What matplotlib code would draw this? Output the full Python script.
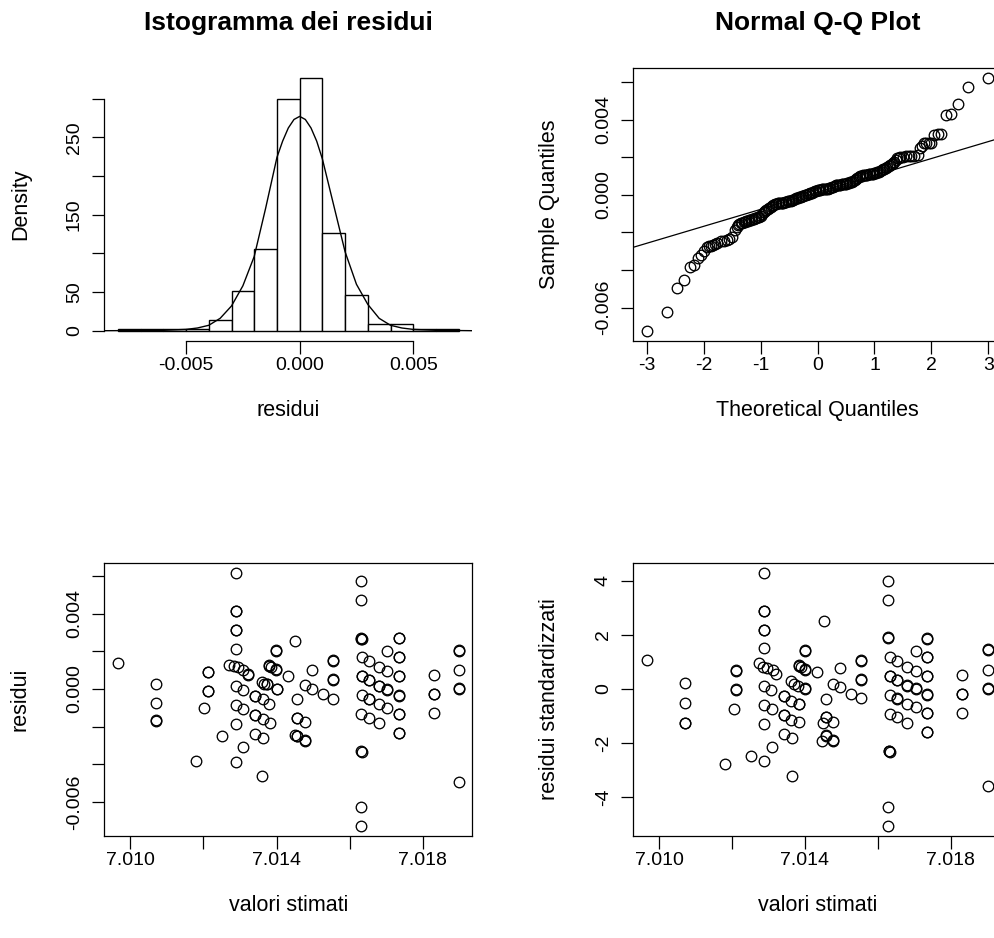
import numpy as np
import matplotlib
matplotlib.use("Agg")
import matplotlib.pyplot as plt

plt.rcParams['font.family'] = ['Liberation Sans', 'DejaVu Sans']
plt.rcParams['axes.unicode_minus'] = False

# --- Istogramma dei residui ---
hist_edges = [-0.008, -0.007, -0.006, -0.005, -0.004, -0.003, -0.002, -0.001,
              0.000, 0.001, 0.002, 0.003, 0.004, 0.005, 0.006, 0.007]
hist_density = [2.7, 2.7, 2.7, 2.7, 13.5, 51.2, 105.1, 299.2,
                326.1, 126.7, 45.8, 8.1, 8.1, 2.7, 2.7]
# kernel density curve
dens_x = [-0.0086, -0.0070, -0.0060, -0.0050, -0.0045, -0.0040, -0.0035, -0.0030,
          -0.0025, -0.0020, -0.0015, -0.0010, -0.00075, -0.0005, -0.00025, 0.0,
          0.00025, 0.0005, 0.00075, 0.0010, 0.0015, 0.0020, 0.0025, 0.0030,
          0.0035, 0.0040, 0.0045, 0.0050, 0.0060, 0.0070, 0.0076]
dens_y = [0.0, 0.2, 0.5, 1.7, 3.5, 7.0, 16.0, 32.0,
          58.0, 96.0, 158.0, 224.0, 245.0, 262.0, 273.0, 277.0,
          273.0, 262.0, 245.0, 222.0, 162.0, 102.0, 60.0, 34.0,
          16.0, 7.0, 3.5, 1.7, 0.5, 0.2, 0.0]

# --- Normal Q-Q plot (theoretical quantile, sample quantile) ---
qq_theo = [-3.00, -2.65, -2.47, -2.35, -2.25, -2.175, -2.11, -2.05, -2.00, -1.95,
           -1.907, -1.866, -1.83, -1.795, -1.76, -1.70, -1.65, -1.60, -1.55, -1.50,
           -1.450, -1.425, -1.400, -1.375, -1.350, -1.325, -1.300, -1.275, -1.250, -1.225,
           -1.200, -1.175, -1.150, -1.125, -1.100, -1.075, -1.050, -1.025, -1.000, -0.975,
           -0.950, -0.925, -0.900, -0.875, -0.850, -0.825, -0.800, -0.775, -0.750, -0.725,
           -0.700, -0.675, -0.650, -0.625, -0.600, -0.575, -0.550, -0.525, -0.500, -0.475,
           -0.450, -0.425, -0.400, -0.375, -0.350, -0.325, -0.300, -0.275, -0.250, -0.225,
           -0.200, -0.175, -0.150, -0.125, -0.100, -0.075, -0.050, -0.025, 0.000, 0.025,
           0.050, 0.075, 0.100, 0.125, 0.150, 0.175, 0.200, 0.225, 0.250, 0.275,
           0.300, 0.325, 0.350, 0.375, 0.400, 0.425, 0.450, 0.475, 0.500, 0.525,
           0.550, 0.575, 0.600, 0.625, 0.650, 0.675, 0.700, 0.725, 0.750, 0.775,
           0.800, 0.825, 0.850, 0.875, 0.900, 0.925, 0.950, 0.975, 1.000, 1.025,
           1.050, 1.075, 1.100, 1.125, 1.150, 1.175, 1.200, 1.225, 1.250, 1.275,
           1.300, 1.325, 1.350, 1.375, 1.400, 1.425, 1.450,
           1.50, 1.55, 1.60, 1.65, 1.70, 1.76, 1.795, 1.83, 1.866, 1.907,
           1.95, 2.00, 2.05, 2.11, 2.175, 2.25, 2.35, 2.47, 2.65, 2.99]
qq_sample = [-0.00722, -0.00620, -0.00493, -0.00453, -0.00382, -0.00373, -0.00333, -0.00318, -0.00300, -0.00278,
             -0.00272, -0.00270, -0.00268, -0.00262, -0.00256, -0.00246, -0.00245, -0.00242, -0.00236, -0.00226,
             -0.00185, -0.00170, -0.00160, -0.00156, -0.00152, -0.00149, -0.00146, -0.00143, -0.00140, -0.00137,
             -0.00134, -0.00132, -0.00130, -0.00128, -0.00125, -0.00122, -0.00120, -0.00116, -0.00110, -0.00100,
             -0.00092, -0.00086, -0.00080, -0.00074, -0.00069, -0.00064, -0.00060, -0.00055, -0.00050, -0.00047,
             -0.00045, -0.00044, -0.00043, -0.00042, -0.00041, -0.00039, -0.00037, -0.00035, -0.00033, -0.00031,
             -0.00028, -0.00025, -0.00022, -0.00019, -0.00016, -0.00013, -0.00010, -0.00007, -0.00005, -0.00002,
             0.00001, 0.00004, 0.00006, 0.00009, 0.00012, 0.00016, 0.00020, 0.00023, 0.00025, 0.00027,
             0.00028, 0.00029, 0.00030, 0.00031, 0.00032, 0.00033, 0.00034, 0.00037, 0.00040, 0.00044,
             0.00047, 0.00050, 0.00053, 0.00054, 0.00055, 0.00056, 0.00057, 0.00058, 0.00060, 0.00061,
             0.00063, 0.00066, 0.00070, 0.00075, 0.00080, 0.00085, 0.00090, 0.00094, 0.00098, 0.00101,
             0.00104, 0.00106, 0.00107, 0.00108, 0.00109, 0.00110, 0.00111, 0.00113, 0.00115, 0.00117,
             0.00119, 0.00123, 0.00127, 0.00131, 0.00135, 0.00139, 0.00143, 0.00147, 0.00152, 0.00157,
             0.00162, 0.00167, 0.00173, 0.00185, 0.00195, 0.00198, 0.00200,
             0.00203, 0.00205, 0.00207, 0.00207, 0.00207, 0.00210, 0.00250, 0.00262, 0.00275, 0.00277,
             0.00277, 0.00278, 0.00320, 0.00322, 0.00323, 0.00425, 0.00428, 0.00481, 0.00575, 0.00619]
qq_intercept = 0.00013
qq_slope = 0.0009

# --- residui vs valori stimati ---
res_fit = [7.00966, 7.01070, 7.01070, 7.01070, 7.01070, 7.01180, 7.01201, 7.01211, 7.01211, 7.01211,
           7.01211, 7.01250, 7.01270, 7.01288, 7.01288, 7.01288, 7.01288, 7.01288, 7.01288, 7.01288,
           7.01288, 7.01288, 7.01288, 7.01283, 7.01295, 7.01309, 7.01322, 7.01322, 7.01309, 7.01307,
           7.01307, 7.01342, 7.01342, 7.01342, 7.01342, 7.01342, 7.01361, 7.01366, 7.01373, 7.01373,
           7.01362, 7.01362, 7.01362, 7.01361, 7.01379, 7.01379, 7.01386, 7.01398, 7.01398, 7.01379,
           7.01382, 7.01398, 7.01398, 7.01400, 7.01400, 7.01432, 7.01451, 7.01455, 7.01455, 7.01455,
           7.01450, 7.01455, 7.01455, 7.01478, 7.01478, 7.01478, 7.01478, 7.01496, 7.01496, 7.01528,
           7.01553, 7.01553, 7.01553, 7.01553, 7.01553, 7.01631, 7.01631, 7.01631, 7.01631, 7.01633,
           7.01633, 7.01633, 7.01633, 7.01633, 7.01631, 7.01631, 7.01633, 7.01631, 7.01631, 7.01653,
           7.01653, 7.01653, 7.01653, 7.01653, 7.01653, 7.01681, 7.01681, 7.01681, 7.01681, 7.01681,
           7.01703, 7.01703, 7.01703, 7.01703, 7.01703, 7.01735, 7.01735, 7.01735, 7.01735, 7.01735,
           7.01735, 7.01735, 7.01735, 7.01735, 7.01735, 7.01735, 7.01735, 7.01831, 7.01831, 7.01831,
           7.01831, 7.01898, 7.01898, 7.01898, 7.01898, 7.01898, 7.01898]
res_val = [0.00136, 0.00028, -0.00074, -0.00168, -0.00166, -0.00382, -0.00099, 0.00089, 0.00091, -0.00012,
           -0.00010, -0.00248, 0.00129, 0.00614, 0.00412, 0.00414, 0.00312, 0.00314, 0.00211, 0.00014,
           -0.00085, -0.00186, -0.00389, 0.00122, 0.00115, 0.00103, 0.00076, 0.00078, -0.00005, -0.00108,
           -0.00308, -0.00039, -0.00037, -0.00140, -0.00138, -0.00239, 0.00035, 0.00027, 0.00027, 0.00029,
           -0.00051, -0.00159, -0.00262, -0.00464, 0.00124, 0.00126, 0.00115, 0.00103, 0.00105, -0.00080,
           -0.00179, 0.00204, 0.00206, 0.00000, 0.00002, 0.00069, 0.00253, -0.00053, -0.00154, -0.00152,
           -0.00246, -0.00251, -0.00249, 0.00021, -0.00173, -0.00274, -0.00272, 0.00103, 0.00000, -0.00027,
           0.00150, 0.00152, 0.00050, 0.00052, -0.00051, 0.00575, 0.00473, 0.00267, 0.00269, 0.00265,
           0.00170, 0.00067, 0.00069, -0.00034, -0.00133, -0.00329, -0.00334, -0.00625, -0.00726, 0.00150,
           0.00048, 0.00050, -0.00053, -0.00051, -0.00152, 0.00117, 0.00014, 0.00016, -0.00081, -0.00181,
           0.00200, 0.00097, -0.00004, -0.00002, -0.00101, 0.00271, 0.00273, 0.00168, 0.00170, 0.00067,
           0.00069, -0.00035, -0.00033, -0.00133, -0.00131, -0.00235, -0.00233, 0.00074, -0.00027, -0.00025,
           -0.00127, 0.00204, 0.00206, 0.00103, 0.00002, 0.00004, -0.00496]

# --- residui standardizzati vs valori stimati ---
std_fit = [7.00967, 7.01070, 7.01070, 7.01070, 7.01070, 7.01182, 7.01205, 7.01212, 7.01212, 7.01212,
           7.01212, 7.01251, 7.01274, 7.01289, 7.01289, 7.01289, 7.01289, 7.01289, 7.01289, 7.01289,
           7.01289, 7.01289, 7.01289, 7.01285, 7.01296, 7.01312, 7.01321, 7.01308, 7.01310, 7.01310,
           7.01344, 7.01344, 7.01344, 7.01344, 7.01344, 7.01363, 7.01370, 7.01381, 7.01363, 7.01363,
           7.01364, 7.01364, 7.01384, 7.01384, 7.01390, 7.01399, 7.01399, 7.01384, 7.01384, 7.01385,
           7.01399, 7.01399, 7.01401, 7.01401, 7.01433, 7.01451, 7.01457, 7.01457, 7.01457, 7.01449,
           7.01457, 7.01457, 7.01447, 7.01477, 7.01477, 7.01477, 7.01477, 7.01497, 7.01497, 7.01527,
           7.01553, 7.01553, 7.01553, 7.01553, 7.01553, 7.01629, 7.01629, 7.01629, 7.01629, 7.01632,
           7.01632, 7.01632, 7.01632, 7.01632, 7.01630, 7.01630, 7.01632, 7.01629, 7.01629, 7.01653,
           7.01653, 7.01653, 7.01653, 7.01653, 7.01653, 7.01680, 7.01680, 7.01680, 7.01680, 7.01680,
           7.01705, 7.01705, 7.01705, 7.01705, 7.01705, 7.01734, 7.01734, 7.01734, 7.01734, 7.01734,
           7.01734, 7.01734, 7.01734, 7.01734, 7.01734, 7.01734, 7.01734, 7.01831, 7.01831, 7.01831,
           7.01831, 7.01901, 7.01901, 7.01901, 7.01901, 7.01901, 7.01901]
std_val = [1.09, 0.23, -0.52, -1.26, -1.24, -2.79, -0.74, 0.68, 0.70, -0.02,
           0.00, -2.48, 0.95, 4.28, 2.88, 2.90, 2.17, 2.19, 1.52, 0.10,
           -0.59, -1.31, -2.68, 0.80, 0.78, 0.70, 0.56, -0.04, -0.74, -2.15,
           -0.27, -0.25, -0.98, -0.96, -1.67, 0.28, 0.19, 0.12, -0.43, -1.15,
           -1.83, -3.23, 0.86, 0.88, 0.80, 0.72, 0.74, -0.56, -0.54, -1.21,
           1.42, 1.44, 0.00, 0.02, 0.62, 2.51, -0.37, -1.05, -1.03, -1.27,
           -1.73, -1.71, -1.91, 0.19, -1.21, -1.91, -1.89, 0.77, 0.06, -0.19,
           1.05, 1.07, 0.35, 0.37, -0.32, 4.01, 3.30, 1.89, 1.91, 1.19,
           0.47, 0.49, -0.21, -0.93, -2.30, -2.28, -2.33, -4.36, -5.06, 1.05,
           0.33, 0.35, -0.37, -0.35, -1.05, 0.81, 0.12, 0.14, -0.56, -1.26,
           1.40, 0.68, 0.00, 0.02, -0.68, 1.85, 1.87, 1.17, 1.19, 0.47,
           0.49, -0.22, -0.20, -0.90, -0.88, -1.60, -1.58, 0.52, -0.19, -0.17,
           -0.89, 1.46, 1.48, 0.72, 0.01, 0.03, -3.60]

W, H = 994, 938
fig = plt.figure(figsize=(W / 100, H / 100), dpi=100)

col_x = [104.3, 633.3]
row_y = [68.3, 563.3]
box_w, box_h = 368, 272.5


def make_axes(col, row):
    left = col_x[col] / W
    bottom = 1 - (row_y[row] + box_h) / H
    return fig.add_axes([left, bottom, box_w / W, box_h / H])


def r_style(ax, xticks, xlabels, yticks, ylabels, xlab, ylab):
    ax.set_xticks(xticks, xlabels)
    ax.set_yticks(yticks, ylabels)
    ax.tick_params(direction='out', length=9, width=0.9, labelsize=14, color='black')
    ax.tick_params(axis='x', pad=3)
    ax.tick_params(axis='y', pad=6.5)
    plt.setp(ax.get_yticklabels(), rotation=90, va='center')
    for s in ax.spines.values():
        s.set_linewidth(0.9)
    ax.set_xlabel(xlab, fontsize=15.5)
    ax.set_ylabel(ylab, fontsize=15.5)
    ax.xaxis.set_label_coords(0.5, -70 / box_h)
    ax.xaxis.label.set_va('center')
    ax.yaxis.set_label_coords(-84 / box_w, 0.5)
    ax.yaxis.label.set_va('center')


def pad_limits(vals):
    lo, hi = min(vals), max(vals)
    d = 0.04 * (hi - lo)
    return lo - d, hi + d


def title(col, text):
    x = (col_x[col] + box_w / 2) / W
    fig.text(x, 1 - 30 / H, text, ha='center', va='baseline', fontsize=19, fontweight='bold')


marker_kw = dict(linestyle='none', marker='o', markersize=7.6, markerfacecolor='none',
                 markeredgecolor='black', markeredgewidth=0.95)

# panel 1: histogram
ax1 = make_axes(0, 0)
ax1.bar(hist_edges[:-1], hist_density, width=np.diff(hist_edges), align='edge',
        facecolor='white', edgecolor='black', linewidth=1.0)
ax1.plot(dens_x, dens_y, color='black', lw=1.0)
ax1.set_xlim(pad_limits(hist_edges))
ax1.set_ylim(pad_limits([0] + hist_density))
r_style(ax1, [-0.005, 0.0, 0.005], ['-0.005', '0.000', '0.005'],
        [0, 50, 100, 150, 200, 250, 300], ['0', '50', '', '150', '', '250', ''],
        'residui', 'Density')
ax1.spines['top'].set_visible(False)
ax1.spines['right'].set_visible(False)
ax1.spines['left'].set_bounds(0, 300)
ax1.spines['bottom'].set_bounds(-0.005, 0.005)
title(0, 'Istogramma dei residui')

# panel 2: normal Q-Q
ax2 = make_axes(1, 0)
ax2.plot(qq_theo, qq_sample, **marker_kw)
ax2.axline((0, qq_intercept), slope=qq_slope, color='black', lw=0.9)
ax2.set_xlim(pad_limits(qq_theo))
ax2.set_ylim(pad_limits(qq_sample))
r_style(ax2, [-3, -2, -1, 0, 1, 2, 3], ['-3', '-2', '-1', '0', '1', '2', '3'],
        [-0.006, -0.004, -0.002, 0.0, 0.002, 0.004, 0.006],
        ['-0.006', '', '', '0.000', '', '0.004', ''],
        'Theoretical Quantiles', 'Sample Quantiles')
title(1, 'Normal Q-Q Plot')

# panel 3: residuals vs fitted
ax3 = make_axes(0, 1)
ax3.plot(res_fit, res_val, **marker_kw)
ax3.set_xlim(pad_limits(res_fit))
ax3.set_ylim(pad_limits(res_val))
r_style(ax3, [7.010, 7.012, 7.014, 7.016, 7.018], ['7.010', '', '7.014', '', '7.018'],
        [-0.006, -0.004, -0.002, 0.0, 0.002, 0.004, 0.006],
        ['-0.006', '', '', '0.000', '', '0.004', ''],
        'valori stimati', 'residui')

# panel 4: standardized residuals vs fitted
ax4 = make_axes(1, 1)
ax4.plot(std_fit, std_val, **marker_kw)
ax4.set_xlim(pad_limits(std_fit))
ax4.set_ylim(pad_limits(std_val))
r_style(ax4, [7.010, 7.012, 7.014, 7.016, 7.018], ['7.010', '', '7.014', '', '7.018'],
        [-4, -2, 0, 2, 4], ['-4', '-2', '0', '2', '4'],
        'valori stimati', 'residui standardizzati')

fig.savefig('out.png', dpi=100)
